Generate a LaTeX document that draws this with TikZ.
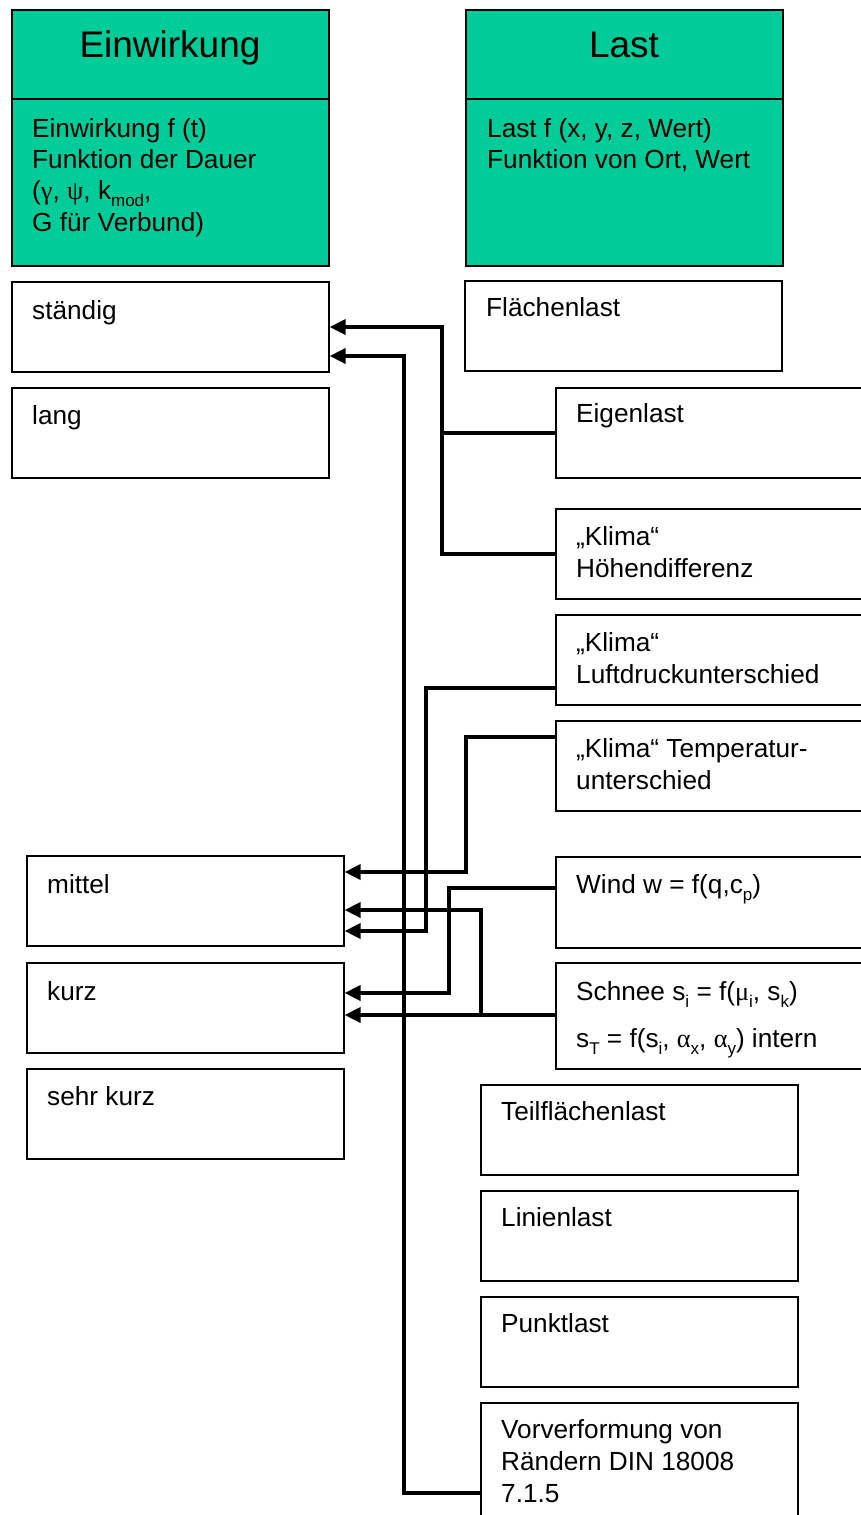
\documentclass[tikz,border=0pt]{standalone}
\usepackage{fontspec}
\setmainfont{Liberation Sans}
\newfontfamily\grk{Liberation Serif}
\usetikzlibrary{arrows.meta}
\definecolor{boxgreen}{RGB}{0,204,153}
\newcommand\sbs[1]{\raisebox{-0.28em}{\fontsize{17}{17}\selectfont #1}}
\begin{document}
\begin{tikzpicture}[x=1pt,y=-1pt,
 box/.style={draw, line width=1.6pt, anchor=north west, inner sep=0pt, minimum width=317pt, minimum height=90pt},
 hbox/.style={box, fill=boxgreen, minimum height=256pt},
 txt/.style={anchor=base west, inner sep=0pt, font=\fontsize{26.2}{30}\selectfont},
 ttl/.style={anchor=base, inner sep=0pt, font=\fontsize{37}{40}\selectfont},
 conn/.style={line width=3.6pt},
 arr/.style={conn, -{Triangle[length=16pt,width=15pt]}}
]
\clip (0,0) rectangle (861,1515);
\fill[white] (0,0) rectangle (861,1515);
% header boxes
\node[hbox] (ew) at (11,9) {};
\draw[line width=1.6pt] (ew.west |- 0,99) -- (ew.east |- 0,99);
\node[ttl] (ewt) at (170,57) {Einwirkung};
\node[txt] (ew1) at (32,137) {Einwirkung f (t)};
\node[txt] (ew2) at (32,168) {Funktion der Dauer};
\node[txt] (ew3) at (32,199) {({\grk γ}, {\grk ψ}, k\sbs{mod},};
\node[txt] (ew4) at (32,231) {G für Verbund)};
\node[hbox] (la) at (465,9) {};
\draw[line width=1.6pt] (la.west |- 0,99) -- (la.east |- 0,99);
\node[ttl] (lat) at (624,57) {Last};
\node[txt] (la1) at (487,137) {Last f (x, y, z, Wert)};
\node[txt] (la2) at (487,168) {Funktion von Ort, Wert};
% left column
\node[box] (st) at (11,281) {};
\node[txt] (stt) at (32,319) {ständig};
\node[box] (lg) at (11,387) {};
\node[txt] (lgt) at (32,424) {lang};
\node[box] (mi) at (26,855) {};
\node[txt] (mit) at (47,893) {mittel};
\node[box] (ku) at (26,962) {};
\node[txt] (kut) at (47,1000) {kurz};
\node[box] (sk) at (26,1068) {};
\node[txt] (skt) at (47,1105) {sehr kurz};
% right column
\node[box] (fl) at (464,280) {};
\node[txt] (flt) at (486,316) {Flächenlast};
\node[box, minimum width=330pt] (eig) at (555,387) {};
\node[txt] (eigt) at (576,422) {Eigenlast};
\node[box, minimum width=330pt] (hd) at (555,508) {};
\node[txt] (hd1) at (576,545) {„Klima“};
\node[txt] (hd2) at (576,577) {Höhendifferenz};
\node[box, minimum width=330pt] (lu) at (555,614) {};
\node[txt] (lu1) at (576,651) {„Klima“};
\node[txt] (lu2) at (576,683) {Luftdruckunterschied};
\node[box, minimum width=330pt] (te) at (555,720) {};
\node[txt] (te1) at (576,757) {„Klima“ Temperatur-};
\node[txt] (te2) at (576,789) {unterschied};
\node[box, minimum width=330pt, minimum height=91pt] (wi) at (555,856) {};
\node[txt] (wit) at (576,893) {Wind w = f(q,c\sbs{p})};
\node[box, minimum width=330pt, minimum height=106pt] (sc) at (555,962) {};
\node[txt] (sc1) at (576,1000) {Schnee s\sbs{i} = f({\grk μ}\sbs{i}, s\sbs{k})};
\node[txt] (sc2) at (576,1047) {s\sbs{T} = f(s\sbs{i}, {\grk α}\sbs{x}, {\grk α}\sbs{y}) intern};
\node[box] (tf) at (480,1084) {};
\node[txt] (tft) at (501,1120) {Teilflächenlast};
\node[box] (li) at (480,1190) {};
\node[txt] (lit) at (501,1226) {Linienlast};
\node[box] (pu) at (480,1296) {};
\node[txt] (put) at (501,1332) {Punktlast};
\node[box, minimum height=130pt] (vo) at (480,1402) {};
\node[txt] (vo1) at (501,1438) {Vorverformung von};
\node[txt] (vo2) at (501,1470) {Rändern DIN 18008};
\node[txt] (vo3) at (501,1502) {7.1.5};
% connectors
\coordinate (j1) at (442,0 |- eig.west);
\draw[arr] (eig.west) -- (j1) |- (st.east |- 0,327);
\draw[conn] (hd.west) -- (hd.west -| j1) -- (j1);
\draw[arr] (vo.west |- 0,1493) -- (404,1493) |- (st.east |- 0,356);
\draw[arr] (lu.west |- 0,688) -- (426,688) |- (mi.east |- 0,931);
\draw[arr] (te.west |- 0,737) -- (466,737) |- (mi.east |- 0,872);
\draw[arr] (wi.west |- 0,888) -- (449,888) |- (ku.east |- 0,993);
\coordinate (j2) at (481,1015);
\draw[arr] (sc.west |- 0,1015) -- (ku.east |- 0,1015);
\draw[arr] (j2) |- (mi.east |- 0,910);
\end{tikzpicture}
\end{document}
